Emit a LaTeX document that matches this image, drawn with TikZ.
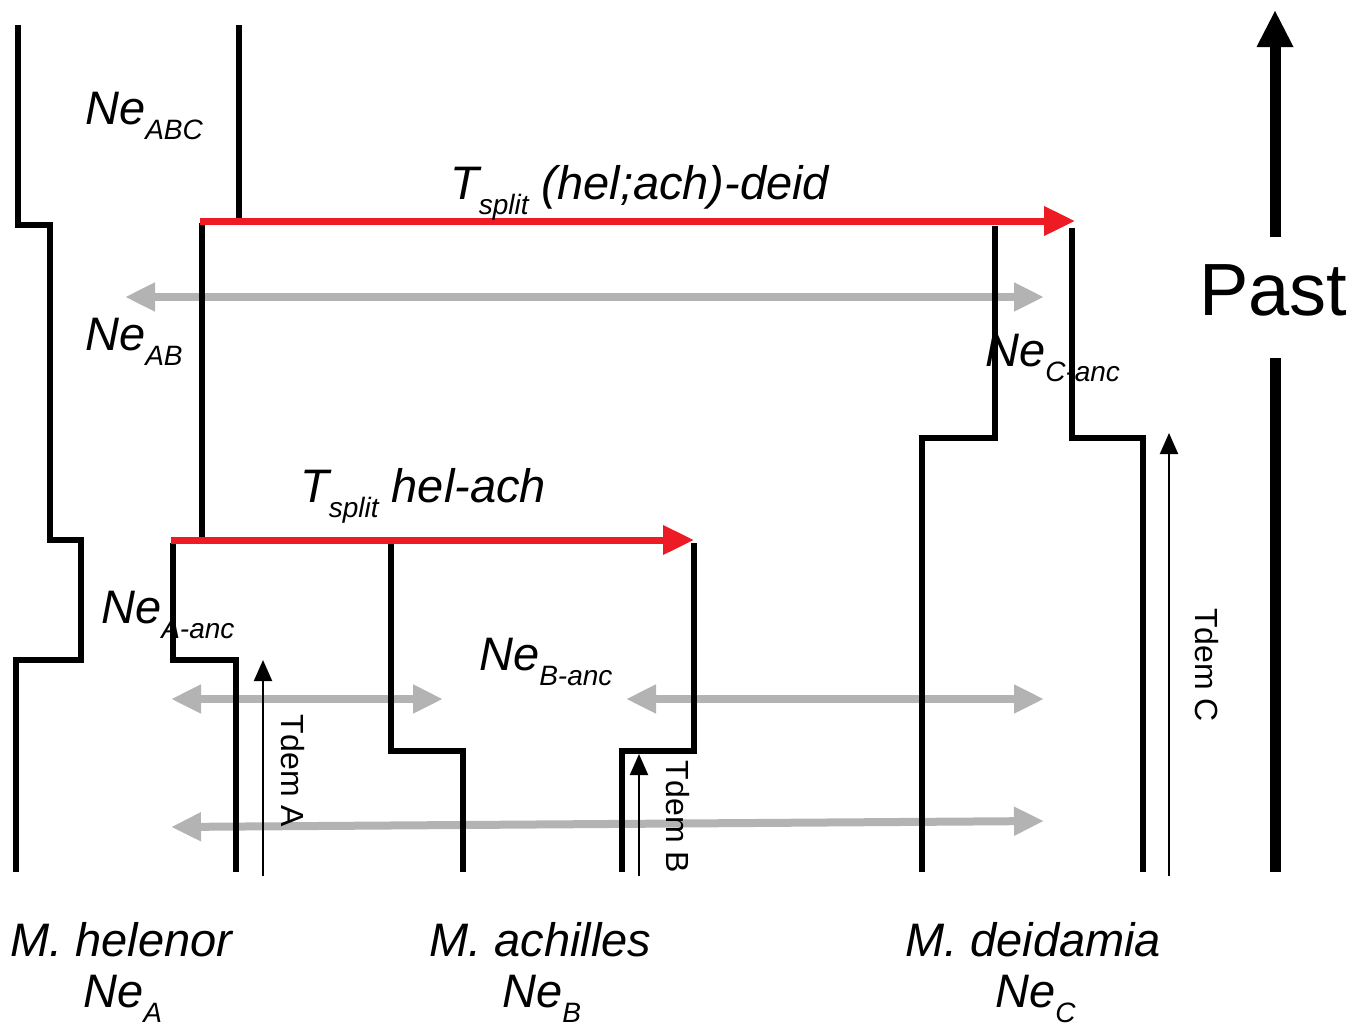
\documentclass[tikz,border=0pt]{standalone}
\usepackage{fontspec}
\setmainfont{Liberation Sans}
\usetikzlibrary{arrows.meta}
\definecolor{splitred}{HTML}{ED1C24}
\definecolor{flowgray}{HTML}{B3B3B3}
\newcommand{\subtxt}[1]{\raisebox{-15pt}{\fontsize{28}{30}\selectfont\itshape #1}}
\begin{document}
\begin{tikzpicture}[x=1pt,y=-1pt,
  lineage/.style={line width=6pt, line cap=butt, line join=miter},
  splitarrow/.style={splitred, line width=7pt, -{Triangle[length=31pt,width=28pt]}},
  flowarrow/.style={flowgray, line width=8pt, {Triangle[length=30pt,width=27pt]}-{Triangle[length=30pt,width=27pt]}},
  tdemarrow/.style={black, line width=2pt, -{Triangle[length=21pt,width=18pt]}},
  lbl/.style={anchor=base west, inner sep=0pt, font=\fontsize{47}{54}\selectfont\itshape},
  tdemlbl/.style={inner sep=0pt, rotate=-90, font=\fontsize{32}{36}\selectfont},
]
\useasboundingbox (0,0) rectangle (1365,1028);

% gray gene-flow arrows (below the lineages)
\coordinate (g1l) at (125,297);  \coordinate (g1r) at (1044,297);
\coordinate (g2l) at (171,699);  \coordinate (g2r) at (443,699);
\coordinate (g3l) at (626,699);  \coordinate (g3r) at (1044,699);
\coordinate (g4l) at (171,827);  \coordinate (g4r) at (1044,821);
\draw[flowarrow] (g1l) -- (g1r);
\draw[flowarrow] (g2l) -- (g2r);
\draw[flowarrow] (g3l) -- (g3r);
\draw[flowarrow] (g4l) -- (g4r);

% lineage outlines
\draw[lineage] (18,25) -- (18,225) -- (50,225) -- (50,540) -- (81,540) -- (81,660) -- (16,660) -- (16,872);
\draw[lineage] (239,25) -- (239,218);
\draw[lineage] (202,223) -- (202,537);
\draw[lineage] (173,543) -- (173,660) -- (236,660) -- (236,872);
\draw[lineage] (391,543) -- (391,751) -- (463,751) -- (463,872);
\draw[lineage] (694,543) -- (694,751) -- (622,751) -- (622,872);
\draw[lineage] (995,226) -- (995,438) -- (922,438) -- (922,872);
\draw[lineage] (1072,228) -- (1072,438) -- (1143,438) -- (1143,872);

% red split arrows
\coordinate (r1s) at (200,221); \coordinate (r1e) at (1075,221);
\coordinate (r2s) at (171,540); \coordinate (r2e) at (694,540);
\draw[splitarrow] (r1s) -- (r1e);
\draw[splitarrow] (r2s) -- (r2e);

% Tdem arrows
\coordinate (tas) at (263,876); \coordinate (tae) at (263,660);
\coordinate (tbs) at (639,876); \coordinate (tbe) at (639,754);
\coordinate (tcs) at (1169,876); \coordinate (tce) at (1169,433);
\draw[tdemarrow] (tas) -- (tae);
\draw[tdemarrow] (tbs) -- (tbe);
\draw[tdemarrow] (tcs) -- (tce);
\node[tdemlbl] (tdema) at (293,771) {Tdem A};
\node[tdemlbl] (tdemb) at (678,817) {Tdem B};
\node[tdemlbl] (tdemc) at (1207,665) {Tdem C};

% Past arrow
\node[anchor=base west, inner sep=0pt, font=\fontsize{74}{80}\selectfont] (past) at (1199,315) {Past};
\coordinate (pastbot) at (1275,872); \coordinate (pastlow) at (1275,358);
\coordinate (pasthigh) at (1275,237); \coordinate (pasttip) at (1275,10);
\draw[line width=11pt] (pastbot) -- (pastlow);
\draw[line width=11pt, -{Triangle[length=37pt,width=34pt]}] (pasthigh) -- (pasttip);

% labels
\node[lbl] (neabc) at (85,124) {Ne\subtxt{ABC}};
\node[lbl] (neab) at (85,350) {Ne\subtxt{AB}};
\node[lbl] (tsplitone) at (450,199) {T\subtxt{split} (hel;ach)-deid};
\node[lbl] (tsplittwo) at (300,502) {T\subtxt{split} hel-ach};
\node[lbl] (neaanc) at (101,623) {Ne\subtxt{A-anc}};
\node[lbl] (nebanc) at (479,670) {Ne\subtxt{B-anc}};
\node[lbl] (necanc) at (985,366) {Ne\subtxt{C-anc}};

\node[lbl] (hel) at (10,956) {M. helenor};
\node[lbl] (nea) at (83,1007) {Ne\subtxt{A}};
\node[lbl] (ach) at (429,956) {M. achilles};
\node[lbl] (neb) at (502,1007) {Ne\subtxt{B}};
\node[lbl] (dei) at (905,956) {M. deidamia};
\node[lbl] (nec) at (995,1007) {Ne\subtxt{C}};
\end{tikzpicture}
\end{document}
